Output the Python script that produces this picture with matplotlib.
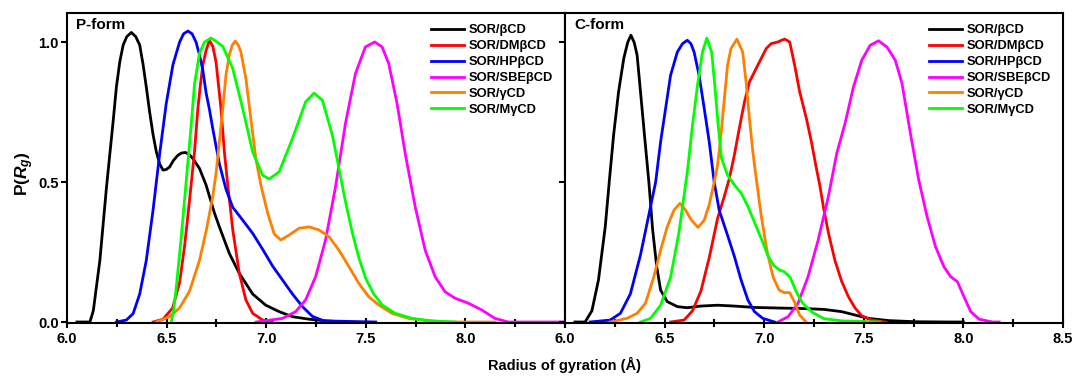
import matplotlib

matplotlib.use("Agg")
import matplotlib.pyplot as plt
from matplotlib.ticker import MultipleLocator

plt.rcParams["font.family"] = ["Liberation Sans", "DejaVu Sans"]
plt.rcParams["font.weight"] = "bold"
plt.rcParams["mathtext.fontset"] = "custom"
plt.rcParams["mathtext.it"] = "Liberation Sans:italic:bold"
plt.rcParams["mathtext.rm"] = "Liberation Sans:bold"

LABELS = ["SOR/βCD", "SOR/DMβCD", "SOR/HPβCD", "SOR/SBEβCD", "SOR/γCD", "SOR/MγCD"]
COLORS = ["black", "#ff0000", "#0000ff", "#ff00ff", "#ff8000", "#00ff00"]

# --- P-form ---
P_BCD_X = [6.05, 6.115, 6.132, 6.165, 6.198, 6.232, 6.248, 6.265, 6.282, 6.3, 6.323,
           6.345, 6.365, 6.382, 6.4, 6.415, 6.432, 6.448, 6.465, 6.482, 6.498, 6.515,
           6.535, 6.557, 6.575, 6.595, 6.615, 6.632, 6.665, 6.698, 6.74, 6.765, 6.815,
           6.865, 6.932, 6.998, 7.065, 7.132, 7.215, 7.3, 7.4]
P_BCD_Y = [0, 0, 0.04, 0.22, 0.48, 0.72, 0.84, 0.93, 0.99, 1.02, 1.035,
           1.02, 0.99, 0.92, 0.83, 0.75, 0.67, 0.61, 0.565, 0.543, 0.545, 0.554,
           0.578, 0.596, 0.604, 0.606, 0.598, 0.584, 0.549, 0.49, 0.39, 0.34, 0.245,
           0.174, 0.10, 0.06, 0.037, 0.019, 0.01, 0.004, 0]

P_DMBCD_X = [6.432, 6.482, 6.53, 6.565, 6.59, 6.607, 6.623, 6.64, 6.657, 6.67, 6.682,
             6.698, 6.715, 6.732, 6.748, 6.76, 6.773, 6.79, 6.807, 6.832, 6.865, 6.898,
             6.932, 6.982, 7.03]
P_DMBCD_Y = [0, 0.01, 0.05, 0.14, 0.27, 0.38, 0.49, 0.608, 0.763, 0.85, 0.918,
             0.97, 1.007, 0.985, 0.93, 0.85, 0.763, 0.608, 0.49, 0.33, 0.174, 0.079,
             0.031, 0.007, 0]

P_HPBCD_X = [6.248, 6.298, 6.332, 6.365, 6.398, 6.432, 6.465, 6.498, 6.532, 6.565, 6.585,
             6.607, 6.628, 6.648, 6.665, 6.682, 6.698, 6.715, 6.732, 6.765, 6.798, 6.832,
             6.882, 6.932, 6.982, 7.032, 7.082, 7.132, 7.182, 7.232, 7.29, 7.55]
P_HPBCD_Y = [0, 0.007, 0.03, 0.1, 0.22, 0.4, 0.6, 0.78, 0.92, 1.0, 1.03,
             1.04, 1.03, 1.0, 0.955, 0.9, 0.82, 0.76, 0.69, 0.565, 0.475, 0.41,
             0.364, 0.317, 0.26, 0.2, 0.15, 0.1, 0.055, 0.02, 0.004, 0]

P_SBEBCD_X = [6.95, 7.082, 7.148, 7.198, 7.248, 7.298, 7.348, 7.398, 7.448, 7.498, 7.545,
              7.582, 7.615, 7.657, 7.698, 7.748, 7.798, 7.848, 7.898, 7.948, 8.015, 8.082,
              8.148, 8.215, 8.5]
P_SBEBCD_Y = [0, 0.013, 0.037, 0.079, 0.162, 0.293, 0.483, 0.71, 0.888, 0.983, 1.001,
              0.983, 0.924, 0.781, 0.602, 0.412, 0.257, 0.162, 0.108, 0.085, 0.067, 0.043,
              0.013, 0, 0]

P_GCD_X = [6.448, 6.515, 6.565, 6.615, 6.665, 6.7, 6.732, 6.748, 6.765, 6.782, 6.798,
           6.815, 6.83, 6.845, 6.86, 6.873, 6.898, 6.923, 6.948, 6.973, 7.007, 7.04,
           7.073, 7.115, 7.165, 7.215, 7.265, 7.315, 7.365, 7.415, 7.465, 7.515, 7.565,
           7.632, 7.715, 7.815, 7.915, 8.15]
P_GCD_Y = [0, 0.019, 0.05, 0.11, 0.22, 0.33, 0.45, 0.53, 0.644, 0.763, 0.882,
           0.955, 0.99, 1.004, 0.99, 0.965, 0.87, 0.727, 0.584, 0.49, 0.39, 0.315,
           0.293, 0.311, 0.335, 0.34, 0.329, 0.305, 0.257, 0.198, 0.138, 0.09, 0.061,
           0.031, 0.013, 0.004, 0, 0]

P_MGCD_X = [6.523, 6.535, 6.548, 6.573, 6.598, 6.623, 6.64, 6.665, 6.69, 6.723, 6.755,
            6.782, 6.832, 6.882, 6.932, 6.982, 7.015, 7.065, 7.132, 7.198, 7.24, 7.282,
            7.332, 7.365, 7.398, 7.432, 7.465, 7.5, 7.54, 7.582, 7.648, 7.732, 7.832, 7.95]
P_MGCD_Y = [0, 0.04, 0.12, 0.3, 0.5, 0.70, 0.85, 0.96, 1.0, 1.015, 1.0,
            0.985, 0.906, 0.763, 0.608, 0.525, 0.511, 0.537, 0.656, 0.787, 0.818, 0.793,
            0.668, 0.55, 0.43, 0.32, 0.23, 0.155, 0.1, 0.061, 0.031, 0.013, 0.004, 0]

# --- C-form ---
C_BCD_X = [6.05, 6.101, 6.135, 6.168, 6.202, 6.222, 6.244, 6.269, 6.295, 6.315, 6.331,
           6.347, 6.362, 6.379, 6.399, 6.421, 6.44, 6.46, 6.48, 6.513, 6.564, 6.614,
           6.682, 6.766, 6.85, 6.951, 7.069, 7.2, 7.3, 7.389, 7.456, 7.523, 7.624,
           7.759, 7.927, 8.0]
C_BCD_Y = [0, 0, 0.04, 0.15, 0.34, 0.5, 0.668, 0.823, 0.942, 1.0, 1.025,
           1.0, 0.954, 0.823, 0.668, 0.5, 0.33, 0.2, 0.114, 0.073, 0.055, 0.051,
           0.057, 0.06, 0.057, 0.052, 0.05, 0.048, 0.045, 0.037, 0.025, 0.013, 0.005,
           0.001, 0, 0]

C_DMBCD_X = [6.53, 6.598, 6.64, 6.682, 6.724, 6.766, 6.8, 6.825, 6.85, 6.875, 6.901,
             6.926, 6.951, 6.985, 7.01, 7.035, 7.069, 7.09, 7.103, 7.128, 7.153, 7.178,
             7.212, 7.237, 7.262, 7.279, 7.3, 7.322, 7.355, 7.389, 7.423, 7.456, 7.49,
             7.54, 7.607]
C_DMBCD_Y = [0, 0.007, 0.04, 0.11, 0.23, 0.37, 0.45, 0.513, 0.596, 0.692, 0.787,
             0.858, 0.894, 0.942, 0.977, 0.995, 1.001, 1.008, 1.011, 1.001, 0.918, 0.823,
             0.727, 0.644, 0.549, 0.489, 0.4, 0.32, 0.22, 0.145, 0.09, 0.05, 0.022,
             0.007, 0]

C_HPBCD_X = [6.126, 6.227, 6.278, 6.328, 6.379, 6.42, 6.455, 6.48, 6.505, 6.53, 6.564,
             6.59, 6.614, 6.632, 6.648, 6.673, 6.699, 6.724, 6.749, 6.774, 6.816, 6.85,
             6.884, 6.918, 6.951, 6.993, 7.052]
C_HPBCD_Y = [0, 0.007, 0.031, 0.1, 0.24, 0.38, 0.5, 0.644, 0.763, 0.882, 0.965,
             0.995, 1.007, 0.995, 0.965, 0.882, 0.763, 0.644, 0.5, 0.4, 0.31, 0.235,
             0.15, 0.079, 0.037, 0.013, 0]

C_SBEBCD_X = [7.069, 7.12, 7.17, 7.22, 7.271, 7.322, 7.364, 7.406, 7.448, 7.49, 7.532,
              7.574, 7.616, 7.658, 7.692, 7.734, 7.776, 7.818, 7.86, 7.902, 7.936, 7.97,
              8.003, 8.037, 8.079, 8.146, 8.18]
C_SBEBCD_Y = [0, 0.019, 0.067, 0.162, 0.293, 0.448, 0.602, 0.71, 0.84, 0.936, 0.989,
              1.005, 0.983, 0.936, 0.852, 0.674, 0.507, 0.376, 0.269, 0.198, 0.162, 0.144,
              0.09, 0.037, 0.01, 0, 0]

C_GCD_X = [6.227, 6.311, 6.362, 6.404, 6.446, 6.48, 6.513, 6.547, 6.577, 6.605, 6.635,
           6.668, 6.699, 6.724, 6.749, 6.766, 6.783, 6.8, 6.816, 6.833, 6.863, 6.892,
           6.909, 6.926, 6.943, 6.96, 6.985, 7.015, 7.045, 7.075, 7.1, 7.128, 7.153,
           7.178, 7.21]
C_GCD_Y = [0, 0.013, 0.031, 0.067, 0.162, 0.257, 0.34, 0.40, 0.424, 0.40, 0.364,
           0.338, 0.364, 0.42, 0.5, 0.561, 0.668, 0.799, 0.918, 0.977, 1.011, 0.965,
           0.858, 0.727, 0.608, 0.513, 0.38, 0.25, 0.16, 0.114, 0.105, 0.105, 0.07,
           0.025, 0]

C_MGCD_X = [6.379, 6.429, 6.48, 6.53, 6.572, 6.614, 6.64, 6.665, 6.69, 6.712, 6.736,
            6.752, 6.769, 6.786, 6.816, 6.85, 6.885, 6.92, 6.955, 6.99, 7.02, 7.05,
            7.08, 7.1, 7.13, 7.16, 7.19, 7.24, 7.3, 7.39, 7.58]
C_MGCD_Y = [0, 0.013, 0.06, 0.16, 0.32, 0.536, 0.703, 0.846, 0.965, 1.015, 0.965,
            0.846, 0.703, 0.584, 0.525, 0.49, 0.46, 0.41, 0.35, 0.29, 0.235, 0.2,
            0.185, 0.18, 0.16, 0.11, 0.07, 0.035, 0.012, 0.004, 0]

P_SERIES = [(P_BCD_X, P_BCD_Y), (P_DMBCD_X, P_DMBCD_Y), (P_HPBCD_X, P_HPBCD_Y),
            (P_SBEBCD_X, P_SBEBCD_Y), (P_GCD_X, P_GCD_Y), (P_MGCD_X, P_MGCD_Y)]
C_SERIES = [(C_BCD_X, C_BCD_Y), (C_DMBCD_X, C_DMBCD_Y), (C_HPBCD_X, C_HPBCD_Y),
            (C_SBEBCD_X, C_SBEBCD_Y), (C_GCD_X, C_GCD_Y), (C_MGCD_X, C_MGCD_Y)]

W, H = 1072, 379
fig = plt.figure(figsize=(W / 100, H / 100), dpi=100)
ax_p = fig.add_axes([67 / W, (H - 323.4) / H, 498 / W, 310 / H])
ax_c = fig.add_axes([565 / W, (H - 323.4) / H, 498 / W, 310 / H])


def style(ax, series, tag, show_ylabels):
    for (x, y), c, lab in zip(series, COLORS, LABELS):
        ax.plot(x, y, color=c, lw=2.0, label=lab, solid_joinstyle="round")
    ax.set_xlim(6.0, 8.5)
    ax.set_ylim(-0.005, 1.103)
    ax.xaxis.set_major_locator(MultipleLocator(0.5))
    ax.xaxis.set_minor_locator(MultipleLocator(0.25))
    ax.yaxis.set_major_locator(MultipleLocator(0.5))
    ax.tick_params(axis="x", which="major", direction="inout", length=7, width=1.5,
                   labelsize=10.5, pad=3)
    ax.tick_params(axis="x", which="minor", direction="inout", length=6, width=1.5)
    ax.tick_params(axis="y", which="major", direction="out", length=4, width=1.5,
                   labelsize=10.5, pad=2, labelleft=show_ylabels)
    ax.xaxis.set_major_formatter(plt.FuncFormatter(lambda v, p: f"{v:.1f}"))
    ax.yaxis.set_major_formatter(plt.FuncFormatter(lambda v, p: f"{v:.1f}"))
    for sp in ax.spines.values():
        sp.set_linewidth(1.5)
    ax.text(0.018, 0.962, tag, transform=ax.transAxes, fontsize=11, fontweight="bold",
            va="center", ha="left")
    ax.legend(loc="upper left", bbox_to_anchor=(0.731, 0.965), frameon=False,
              fontsize=9.3, handlelength=2.55, handletextpad=0.4, labelspacing=0.3,
              borderaxespad=0, borderpad=0)


style(ax_p, P_SERIES, "P-form", True)
style(ax_c, C_SERIES, "C-form", False)
# the left panel's 8.5 label is left blank: the right panel's 6.0 sits there
ax_p.set_xticks([6.0, 6.5, 7.0, 7.5, 8.0, 8.5])
ax_p.set_xticklabels(["6.0", "6.5", "7.0", "7.5", "8.0", ""])

fig.text(25 / W, 0.541, r"P($\mathit{R}_{\mathit{g}}$)", rotation=90, fontsize=12.5,
         fontweight="bold", ha="center", va="center")
fig.text(565 / W, 1 - 365 / H, "Radius of gyration (Å)", fontsize=10.5,
         fontweight="bold", ha="center", va="center")

fig.savefig("out.png", dpi=100)
